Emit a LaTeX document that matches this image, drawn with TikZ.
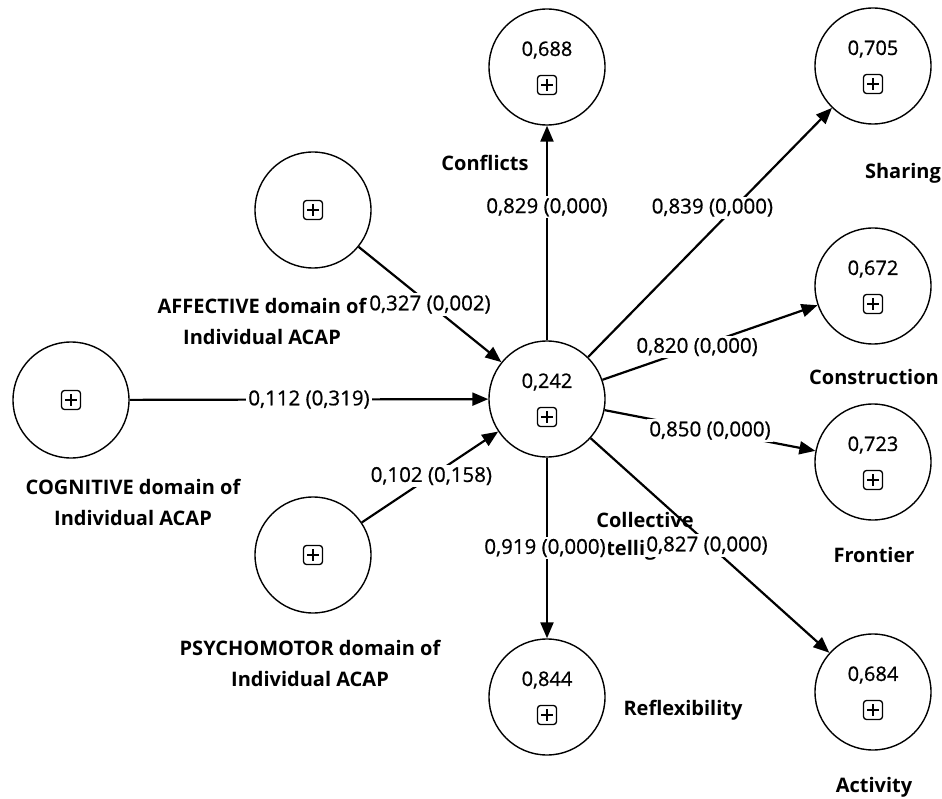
\documentclass[tikz,border=0pt]{standalone}
\usepackage{fontspec}
\setmainfont{Open Sans}
\newfontfamily\numfont[FakeBold=0.8]{Open Sans}
\usetikzlibrary{arrows.meta,calc}
\begin{document}
\begin{tikzpicture}[x=1pt,y=-1pt,
  lv/.style={circle,draw,line width=1.4pt,minimum size=116pt,inner sep=0pt},
  val/.style={font=\numfont\fontsize{20}{24}\selectfont},
  lbl/.style={font=\fontsize{20}{31}\selectfont\bfseries,align=center,inner sep=0pt},
  rel/.style={line width=2.2pt,-{Triangle[length=16pt,width=13pt]}},
  coef/.style={fill=white,inner sep=2pt,font=\numfont\fontsize{20.5}{24}\selectfont},
  plusbox/.pic={
    \draw[line width=1.3pt,rounded corners=3pt] (-9.5,-9.5) rectangle (9.5,9.5);
    \draw[line width=1.3pt] (-6,0) -- (6,0) (0,-6) -- (0,6);
  }
]
\useasboundingbox (0,0) rectangle (942,799);

% latent variables
\node[lv] (ci)  at (547,399) {};
\node[lv] (con) at (547,67)  {};
\node[lv] (sha) at (873,66)  {};
\node[lv] (cst) at (873,286) {};
\node[lv] (fro) at (873,462) {};
\node[lv] (act) at (873,692) {};
\node[lv] (ref) at (547,697) {};
\node[lv] (aff) at (313,210) {};
\node[lv] (cog) at (71,400)  {};
\node[lv] (psy) at (313,555) {};

% R-squared values
\node[val] (vci)  at ($(ci)+(0,-17)$)  {0,242};
\node[val] (vcon) at ($(con)+(0,-17)$) {0,688};
\node[val] (vsha) at ($(sha)+(0,-17)$) {0,705};
\node[val] (vcst) at ($(cst)+(0,-17)$) {0,672};
\node[val] (vfro) at ($(fro)+(0,-17)$) {0,723};
\node[val] (vact) at ($(act)+(0,-17)$) {0,684};
\node[val] (vref) at ($(ref)+(0,-17)$) {0,844};

% expander boxes
\pic at ($(ci)+(0,18)$)  {plusbox};
\pic at ($(con)+(0,18)$) {plusbox};
\pic at ($(sha)+(0,18)$) {plusbox};
\pic at ($(cst)+(0,18)$) {plusbox};
\pic at ($(fro)+(0,18)$) {plusbox};
\pic at ($(act)+(0,18)$) {plusbox};
\pic at ($(ref)+(0,18)$) {plusbox};
\pic at (aff) {plusbox};
\pic at (cog) {plusbox};
\pic at (psy) {plusbox};

% construct names
\node[lbl] (tcon) at (485,163) {Conflicts};
\node[lbl] (tsha) at (903,173) {Sharing};
\node[lbl] (tcst) at (874,377) {Construction};
\node[lbl] (tfro) at (874,555) {Frontier};
\node[lbl] (tact) at (874,787) {Activity};
\node[lbl] (tref) at (683,710) {Reflexibility};
\node[lbl,font=\fontsize{20}{28}\selectfont\bfseries] (tci) at (645,536) {Collective\\Intelligence};
\node[lbl] (taff) at (262,321) {AFFECTIVE domain of\\Individual ACAP};
\node[lbl] (tcog) at (133,502) {COGNITIVE domain of\\Individual ACAP};
\node[lbl] (tpsy) at (310,663) {PSYCHOMOTOR domain of\\Individual ACAP};

% structural paths
\draw[rel] (aff) -- node[coef,pos=0.5] {0,327 (0,002)} (ci);
\draw[rel] (cog) -- node[coef,pos=0.5] {0,112 (0,319)} (ci);
\draw[rel] (psy) -- node[coef,pos=0.51] {0,102 (0,158)} (ci);

% outer loadings
\draw[rel] (ci) -- node[coef,pos=0.62] {0,829 (0,000)} (con);
\draw[rel] (ci) -- node[coef,pos=0.6,xshift=-22pt] {0,839 (0,000)} (sha);
\draw[rel] (ci) -- node[coef,pos=0.44] {0,820 (0,000)} (cst);
\draw[rel] (ci) -- node[coef,pos=0.5] {0,850 (0,000)} (fro);
\draw[rel] (ci) -- node[coef,pos=0.5,xshift=-3pt] {0,827 (0,000)} (act);
\draw[rel] (ci) -- node[coef,pos=0.5,xshift=-2pt] {0,919 (0,000)} (ref);
\end{tikzpicture}
\end{document}
